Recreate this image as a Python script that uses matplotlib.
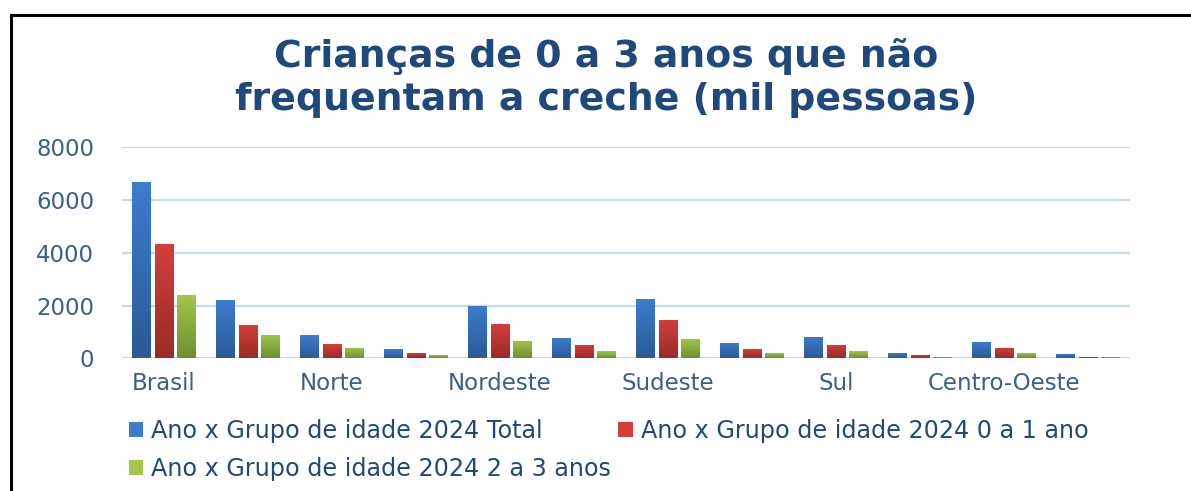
import numpy as np
import matplotlib
matplotlib.use("Agg")
import matplotlib.pyplot as plt
from matplotlib.colors import LinearSegmentedColormap
from matplotlib.lines import Line2D
from matplotlib.patches import Patch

# ── Data (mil pessoas) ───────────────────────────────────────────────────────
categories = ["Brasil", "", "Norte", "", "Nordeste", "", "Sudeste", "",
              "Sul", "", "Centro-Oeste", ""]
total = [6700, 2220, 895, 340, 1985, 780, 2260, 580, 820, 210, 620, 175]
idade_0_1 = [4320, 1265, 530, 190, 1300, 495, 1465, 340, 495, 125, 380, 50]
idade_2_3 = [2390, 895, 380, 125, 655, 265, 730, 210, 265, 40, 210, 40]

series = [
    ("Ano x Grupo de idade 2024 Total", total, "#3C7DCF", "#2B5A95"),
    ("Ano x Grupo de idade 2024 0 a 1 ano", idade_0_1, "#D23F3B", "#9C2A27"),
    ("Ano x Grupo de idade 2024 2 a 3 anos", idade_2_3, "#A2C64E", "#6F8F2F"),
]

TITLE_C = "#1F497D"
TICK_C = "#3B5E8C"
GRID_C = "#C6D9F1"

plt.rcParams.update({
    "font.family": "DejaVu Sans",
    "figure.facecolor": "white",
    "axes.facecolor": "white",
})

fig = plt.figure(figsize=(11.91, 4.91), dpi=100)
ax = fig.add_axes([0.1024, 0.2703, 0.8464, 0.4297])

x = np.arange(len(categories))
width = 0.22
step = 0.27

for i, (label, vals, top_c, bot_c) in enumerate(series):
    bars = ax.bar(x + (i - 1) * step, vals, width=width, color=top_c,
                  edgecolor="none", zorder=3)
    cmap = LinearSegmentedColormap.from_list(f"g{i}", [bot_c, top_c])
    grad = np.linspace(0, 1, 64).reshape(-1, 1)
    for b in bars:
        bx, by = b.get_x(), b.get_y()
        bw, bh = b.get_width(), b.get_height()
        im = ax.imshow(grad, cmap=cmap, origin="lower", aspect="auto",
                       extent=[bx, bx + bw, by, by + bh], zorder=4,
                       interpolation="bilinear")
        im.set_clip_path(b)

ax.set_xlim(-0.5, len(categories) - 0.5)
ax.set_ylim(0, 8000)
ax.set_yticks([0, 2000, 4000, 6000, 8000])
ax.set_xticks(x)
ax.set_xticklabels(categories)
ax.grid(axis="y", color=GRID_C, linewidth=1.6, zorder=0)
ax.set_axisbelow(True)
for s in ax.spines.values():
    s.set_visible(False)
ax.tick_params(axis="both", length=0, colors=TICK_C, labelsize=16.5)
ax.tick_params(axis="y", pad=20)
ax.tick_params(axis="x", pad=10)

# title
fig.text(0.509, 0.8635, "Crianças de 0 a 3 anos que não", ha="center",
         va="baseline", fontsize=27.3, fontweight="bold", color=TITLE_C)
fig.text(0.509, 0.776, "frequentam a creche (mil pessoas)", ha="center",
         va="baseline", fontsize=27.3, fontweight="bold", color=TITLE_C)

# legend, row-major order
handles = [Patch(facecolor=s[2], edgecolor="none", label=s[0]) for s in series]
order = [0, 2, 1]
fig.legend([handles[k] for k in order], [series[k][0] for k in order],
           ncol=2, loc="upper left", bbox_to_anchor=(0.1, 0.166),
           frameon=False, fontsize=17.2, labelcolor=TITLE_C,
           handlelength=0.6, handleheight=0.6, handletextpad=0.35,
           columnspacing=0.3, labelspacing=0.58, borderaxespad=0)

# outer frame (left and top edges)
fig.add_artist(Line2D([0.0092, 0.0092], [0, 0.9695], color="black",
                      linewidth=2.2, transform=fig.transFigure))
fig.add_artist(Line2D([0.0092, 1.0], [0.9695, 0.9695], color="black",
                      linewidth=2.2, transform=fig.transFigure))

fig.savefig("out.png", dpi=100)
